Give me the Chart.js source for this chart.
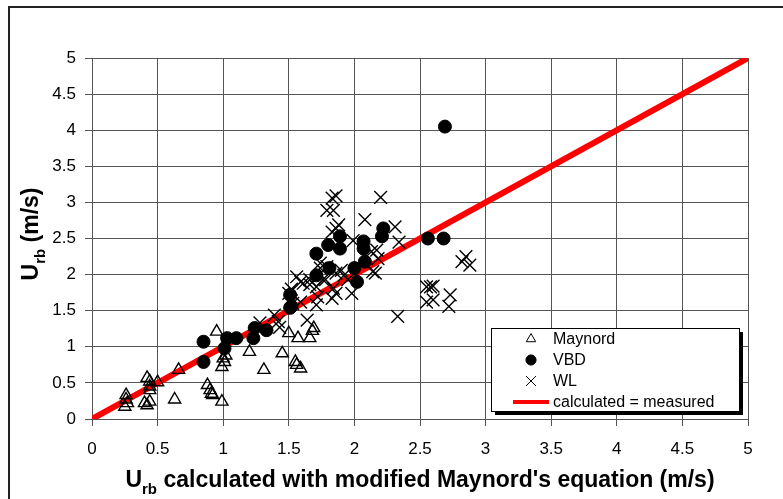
<!DOCTYPE html>
<html>
<head>
<meta charset="utf-8">
<script src="https://cdn.jsdelivr.net/npm/chart.js@4"></script>
<style>
  html, body { margin: 0; padding: 0; background: #fff; }
  #wrap { width: 783px; height: 499px; position: relative; }
</style>
</head>
<body>
<div id="wrap"><canvas id="chart-urb" width="783" height="499"></canvas></div>
<script>
// data: [calculated, measured]
const maynord = [
    [0.26, 0.33], [0.26, 0.27], [0.27, 0.22], [0.25, 0.17], [0.42, 0.57], [0.44, 0.52],
    [0.44, 0.45], [0.44, 0.40], [0.50, 0.51], [0.40, 0.22], [0.42, 0.19], [0.44, 0.24],
    [0.66, 0.68], [0.63, 0.27], [0.88, 0.47], [0.90, 0.40], [0.91, 0.35], [0.92, 0.33],
    [0.99, 0.24], [0.95, 1.21], [1.00, 0.84], [1.01, 0.79], [0.99, 0.72], [1.02, 0.88],
    [1.20, 0.93], [1.31, 0.68], [1.45, 0.91], [1.50, 1.19], [1.55, 0.79], [1.56, 0.75],
    [1.59, 0.70], [1.57, 1.12], [1.66, 1.12], [1.69, 1.26], [1.68, 1.22]
];
const vbd = [
    [0.85, 1.07], [0.85, 0.79], [1.01, 0.98], [1.03, 1.12], [1.10, 1.12], [1.23, 1.12],
    [1.24, 1.26], [1.33, 1.23], [1.51, 1.54], [1.51, 1.72], [1.52, 1.56], [1.71, 1.99],
    [1.71, 2.29], [1.80, 2.41], [1.81, 2.09], [1.89, 2.53], [1.89, 2.36], [2.00, 2.09],
    [2.02, 1.90], [2.07, 2.46], [2.07, 2.36], [2.08, 2.18], [2.21, 2.53], [2.22, 2.64],
    [2.56, 2.50], [2.68, 2.50], [2.69, 4.05]
];
const wl = [
    [1.28, 1.33], [1.39, 1.44], [1.42, 1.35], [1.43, 1.27], [1.50, 1.74], [1.52, 1.80],
    [1.53, 1.60], [1.56, 1.97], [1.59, 1.90], [1.59, 1.62], [1.61, 1.88], [1.64, 1.37],
    [1.66, 1.86], [1.66, 1.93], [1.71, 1.83], [1.71, 1.58], [1.72, 1.69], [1.74, 2.09],
    [1.74, 2.16], [1.76, 1.93], [1.78, 1.93], [1.79, 2.11], [1.79, 2.89], [1.83, 3.06],
    [1.83, 2.59], [1.83, 1.67], [1.84, 1.81], [1.84, 2.89], [1.86, 3.09], [1.86, 2.64],
    [1.86, 2.02], [1.86, 1.74], [1.88, 2.69], [1.90, 2.06], [1.92, 1.99], [1.95, 1.93],
    [1.98, 1.74], [1.99, 2.47], [2.08, 2.76], [2.13, 2.32], [2.14, 2.04], [2.16, 2.02],
    [2.17, 2.34], [2.18, 2.22], [2.20, 3.07], [2.31, 2.66], [2.33, 1.42], [2.34, 2.45],
    [2.55, 1.83], [2.58, 1.83], [2.60, 1.65], [2.55, 1.62], [2.60, 1.84], [2.73, 1.72],
    [2.72, 1.56], [2.82, 2.18], [2.85, 2.25], [2.88, 2.13]
];
const lineX = [0, 5];
const lineY = [0, 5];
const tickValues = [0, 0.5, 1, 1.5, 2, 2.5, 3, 3.5, 4, 4.5, 5];

const FONT = 'Arial, "Liberation Sans", sans-serif';

function toPoints(arr) {
    return arr.map(p => ({ x: p[0], y: p[1] }));
}

// outer frame of the figure
const framePlugin = {
    id: 'frame',
    beforeDraw(chart) {
        const ctx = chart.ctx;
        ctx.save();
        ctx.strokeStyle = '#222';
        ctx.lineWidth = 2;
        ctx.beginPath();
        ctx.moveTo(9, chart.height + 5);
        ctx.lineTo(9, 7);
        ctx.lineTo(chart.width + 5, 7);
        ctx.stroke();
        ctx.restore();
    }
};

// axis titles with the "rb" subscript
function drawSubTitle(ctx, x, y, rest) {
    const big = 'bold 23px ' + FONT;
    const small = 'bold 15px ' + FONT;
    ctx.font = big;
    const wU = ctx.measureText('U').width;
    const wRest = ctx.measureText(rest).width;
    ctx.font = small;
    const wSub = ctx.measureText('rb').width;
    let cx = x - (wU + wSub + wRest) / 2;
    ctx.textAlign = 'left';
    ctx.textBaseline = 'alphabetic';
    ctx.font = big;
    ctx.fillText('U', cx, y);
    cx += wU;
    ctx.font = small;
    ctx.fillText('rb', cx, y + 7);
    cx += wSub;
    ctx.font = big;
    ctx.fillText(rest, cx, y);
}

const titlePlugin = {
    id: 'titles',
    afterDraw(chart) {
        const ctx = chart.ctx;
        const area = chart.chartArea;
        ctx.save();
        ctx.fillStyle = '#000';
        drawSubTitle(ctx, (area.left + area.right) / 2, 487, " calculated with modified Maynord's equation (m/s)");
        ctx.translate(38, 234);
        ctx.rotate(-Math.PI / 2);
        drawSubTitle(ctx, 0, 0, ' (m/s)');
        ctx.restore();
    }
};

// boxed legend with shadow, inside the plot
const legendPlugin = {
    id: 'boxLegend',
    afterDraw(chart) {
        const ctx = chart.ctx;
        const bx = 491, by = 328, bw = 248, bh = 83;
        ctx.save();
        ctx.fillStyle = '#000';
        ctx.fillRect(bx + 4, by + 4, bw, bh);
        ctx.fillStyle = '#fff';
        ctx.fillRect(bx, by, bw, bh);
        ctx.strokeStyle = '#000';
        ctx.lineWidth = 1;
        ctx.strokeRect(bx + 0.5, by + 0.5, bw, bh);

        ctx.font = '16px ' + FONT;
        ctx.textBaseline = 'middle';
        ctx.textAlign = 'left';
        const rowY = [339, 360, 381, 402];
        chart.data.datasets.forEach((ds, i) => {
            const y = rowY[i];
            if (ds.type === 'line') {
                ctx.strokeStyle = ds.borderColor;
                ctx.lineWidth = 4;
                ctx.beginPath();
                ctx.moveTo(513, y);
                ctx.lineTo(549, y);
                ctx.stroke();
            } else {
                ctx.strokeStyle = ds.pointBorderColor;
                ctx.fillStyle = ds.pointBackgroundColor;
                Chart.helpers.drawPoint(ctx, {
                    pointStyle: ds.pointStyle,
                    radius: ds.pointRadius * 0.78,
                    rotation: 0,
                    borderWidth: ds.pointBorderWidth
                }, 531, y);
            }
            ctx.fillStyle = '#000';
            ctx.fillText(ds.label, 553, y + 1);
        });
        ctx.restore();
    }
};

function axisOptions() {
    return {
        type: 'linear',
        min: 0,
        max: 5,
        afterBuildTicks: (scale) => {
            scale.ticks = tickValues.map(v => ({ value: v }));
        },
        grid: {
            color: '#555',
            lineWidth: 1,
            tickLength: 7,
            drawTicks: true
        },
        border: { color: '#555', width: 1 },
        ticks: {
            color: '#000',
            font: { family: FONT, size: 17 },
            padding: 9,
            callback: (value) => String(value)
        }
    };
}

const xAxis = axisOptions();
xAxis.ticks.padding = 13;
xAxis.afterFit = (scale) => { scale.height = 80; };
const yAxis = axisOptions();
yAxis.afterFit = (scale) => { scale.width = 92; };

const chartElement = document.getElementById("chart-urb");
const urbChart = new Chart(chartElement, {
    type: 'scatter',
    data: {
        datasets: [{
                label: 'Maynord',
                data: toPoints(maynord),
                pointStyle: 'triangle',
                pointRadius: 7,
                pointBorderWidth: 1.4,
                pointBorderColor: '#000',
                pointBackgroundColor: 'rgba(0,0,0,0)'
            },
            {
                label: 'VBD',
                data: toPoints(vbd),
                pointStyle: 'circle',
                pointRadius: 6.5,
                pointBorderWidth: 1,
                pointBorderColor: '#000',
                pointBackgroundColor: '#000'
            },
            {
                label: 'WL',
                data: toPoints(wl),
                pointStyle: 'crossRot',
                pointRadius: 9,
                pointBorderWidth: 1.4,
                pointBorderColor: '#000',
                pointBackgroundColor: '#000'
            },
            {
                type: 'line',
                label: 'calculated = measured',
                data: lineX.map((x, i) => ({ x: x, y: lineY[i] })),
                borderColor: '#ff0000',
                borderWidth: 6,
                pointRadius: 0,
                fill: false
            }
        ]
    },
    options: {
        responsive: false,
        animation: false,
        layout: { padding: { left: 0, top: 58, right: 35, bottom: 0 } },
        scales: { x: xAxis, y: yAxis },
        plugins: {
            legend: { display: false },
            tooltip: { enabled: false }
        }
    },
    plugins: [framePlugin, titlePlugin, legendPlugin]
});
</script>
</body>
</html>
